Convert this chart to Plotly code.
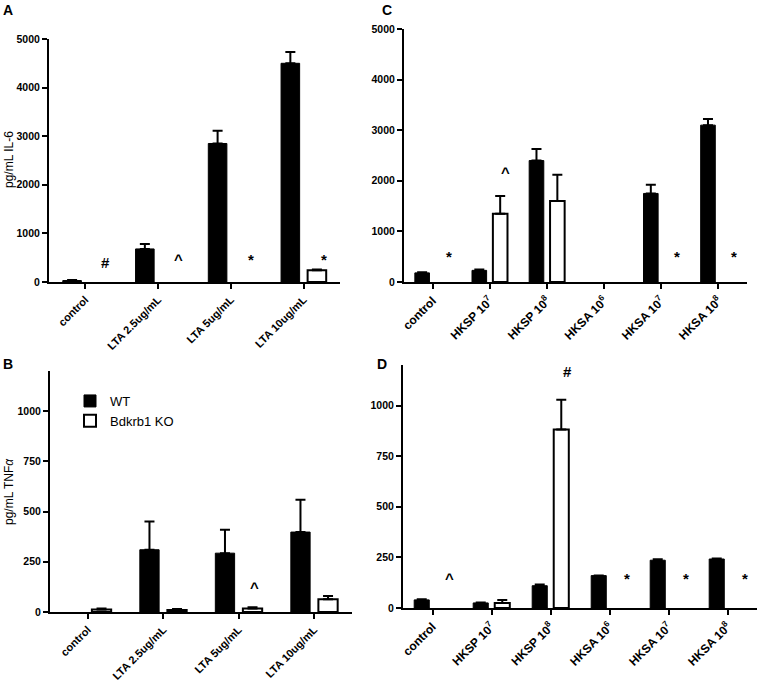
import plotly.graph_objects as go

# ---------------- data ----------------
A_cats = ["control", "LTA 2.5ug/mL", "LTA 5ug/mL", "LTA 10ug/mL"]
A_wt = [30, 680, 2850, 4500]
A_wt_err = [10, 100, 260, 230]
A_ko = [None, None, None, 240]
A_ko_err = [0, 0, 0, 15]
A_sig = ["#", "^", "*", "*"]
A_sig_y = [410, 470, 470, 470]

B_cats = ["control", "LTA 2.5ug/mL", "LTA 5ug/mL", "LTA 10ug/mL"]
B_wt = [None, 310, 293, 398]
B_wt_err = [0, 141, 117, 161]
B_ko = [12, 10, 18, 63]
B_ko_err = [5, 5, 6, 17]
B_sig = ["", "", "^", ""]
B_sig_y = [None, None, 123, None]

C_cats = ["control", "HKSP 10<sup>7</sup>", "HKSP 10<sup>8</sup>",
          "HKSA 10<sup>6</sup>", "HKSA 10<sup>7</sup>", "HKSA 10<sup>8</sup>"]
C_wt = [180, 230, 2400, None, 1750, 3100]
C_wt_err = [15, 15, 230, 0, 170, 120]
C_ko = [None, 1350, 1600, None, None, None]
C_ko_err = [0, 350, 520, 0, 0, 0]
C_sig = ["*", "^", "", "", "*", "*"]
C_sig_y = [495, 2155, None, None, 495, 495]

D_cats = C_cats
D_wt = [40, 25, 110, 160, 236, 242]
D_wt_err = [3, 2, 6, 0, 5, 3]
D_ko = [None, 25, 882, None, None, None]
D_ko_err = [0, 15, 146, 0, 0, 0]
D_sig = ["^", "", "#", "*", "*", "*"]
D_sig_y = [145, None, 1170, 145, 145, 145]

series_names = ["WT", "Bdkrb1 KO"]

# ---------------- layout helpers ----------------
W, H = 757, 684
FONT = "Liberation Sans, Arial, sans-serif"


def xd(a, b):
    return [a / W, b / W]


def yd(top, bottom):
    return [1 - bottom / H, 1 - top / H]


panels = [
    # key, cats, wt, wterr, ko, koerr, sig, sigy, xdomain, ydomain, yrange, dtick, legend, sig xshift, xlabel size
    ("A", A_cats, A_wt, A_wt_err, A_ko, A_ko_err, A_sig, A_sig_y, xd(49, 340), yd(39, 282), [0, 5000], 1000, False, 20, 11),
    ("C", C_cats, C_wt, C_wt_err, C_ko, C_ko_err, C_sig, C_sig_y, xd(404, 747), yd(29, 282), [0, 5000], 1000, False, 16, 12),
    ("B", B_cats, B_wt, B_wt_err, B_ko, B_ko_err, B_sig, B_sig_y, xd(50, 352), yd(371, 612), [0, 1200], 250, True, 16, 11),
    ("D", D_cats, D_wt, D_wt_err, D_ko, D_ko_err, D_sig, D_sig_y, xd(403, 757), yd(365, 608), [0, 1200], 250, False, 17, 12),
]

fig = go.Figure()
annotations = []
axis_common = dict(showline=True, linewidth=2, linecolor="black", ticks="outside",
                   ticklen=5, tickwidth=2, tickcolor="black", showgrid=False,
                   zeroline=False, automargin=False)
yfont = dict(family=FONT, size=10.5, color="black", weight="bold")

for i, (key, cats, wt, wterr, ko, koerr, sig, sigy, xdom, ydom, yr, dt, leg, xs, xls) in enumerate(panels):
    n = i + 1
    xa = "x" if n == 1 else f"x{n}"
    ya = "y" if n == 1 else f"y{n}"
    fig.add_trace(go.Bar(
        x=cats, y=wt, name=series_names[0], xaxis=xa, yaxis=ya, offsetgroup="wt",
        marker=dict(color="black", line=dict(color="black", width=1)),
        error_y=dict(type="data", symmetric=False, array=wterr, arrayminus=[0] * len(cats),
                     color="black", thickness=2, width=5),
        showlegend=leg, legendgroup="wt"))
    fig.add_trace(go.Bar(
        x=cats, y=ko, name=series_names[1], xaxis=xa, yaxis=ya, offsetgroup="ko",
        marker=dict(color="white", line=dict(color="black", width=2)),
        error_y=dict(type="data", symmetric=False, array=koerr, arrayminus=[0] * len(cats),
                     color="black", thickness=2, width=5),
        showlegend=leg, legendgroup="ko"))
    fig.layout[("xaxis" if n == 1 else f"xaxis{n}")] = dict(
        domain=xdom, anchor=ya, type="category", range=[-0.5, len(cats) - 0.5],
        tickangle=-45, tickfont=dict(family=FONT, size=xls, color="black", weight="bold"),
        **axis_common)
    fig.layout[("yaxis" if n == 1 else f"yaxis{n}")] = dict(
        domain=ydom, anchor=xa, range=yr, dtick=dt, tick0=0, tickfont=yfont, **axis_common)
    for j, s in enumerate(sig):
        if s:
            annotations.append(dict(x=j, xshift=xs, y=sigy[j], xref=xa, yref=ya, text=s,
                                    showarrow=False, yanchor="middle",
                                    font=dict(family=FONT, size=15, color="black", weight="bold")))

# panel letters
for letter, px, py in [("A", 8, 0), ("C", 387, 0), ("B", 8, 354), ("D", 382, 354)]:
    annotations.append(dict(x=px / W, y=1 - py / H, xref="paper", yref="paper", text=letter,
                            showarrow=False, xanchor="center", yanchor="top",
                            font=dict(family=FONT, size=14, color="black", weight="bold")))

# y-axis titles
annotations.append(dict(x=9 / W, y=1 - 160 / H, xref="paper", yref="paper", text="pg/mL IL-6",
                        textangle=-90, showarrow=False, xanchor="center", yanchor="middle",
                        font=dict(family=FONT, size=12, color="black")))
annotations.append(dict(x=9 / W, y=1 - 492 / H, xref="paper", yref="paper",
                        text="pg/mL TNF<i>α</i>",
                        textangle=-90, showarrow=False, xanchor="center", yanchor="middle",
                        font=dict(family=FONT, size=12, color="black")))

fig.update_layout(
    width=W, height=H, margin=dict(l=0, r=0, t=0, b=0, autoexpand=False),
    paper_bgcolor="white", plot_bgcolor="white",
    barmode="group", bargap=0.27, bargroupgap=0.3,
    annotations=annotations,
    legend=dict(x=70 / W, y=1 - 386 / H, xanchor="left", yanchor="top",
                bgcolor="rgba(0,0,0,0)", font=dict(family=FONT, size=13, color="black"),
                tracegroupgap=0, itemwidth=30),
)

fig.write_html("out.html", config={"displayModeBar": False},
               post_script="document.body.style.margin='0';document.body.style.padding='0';")
